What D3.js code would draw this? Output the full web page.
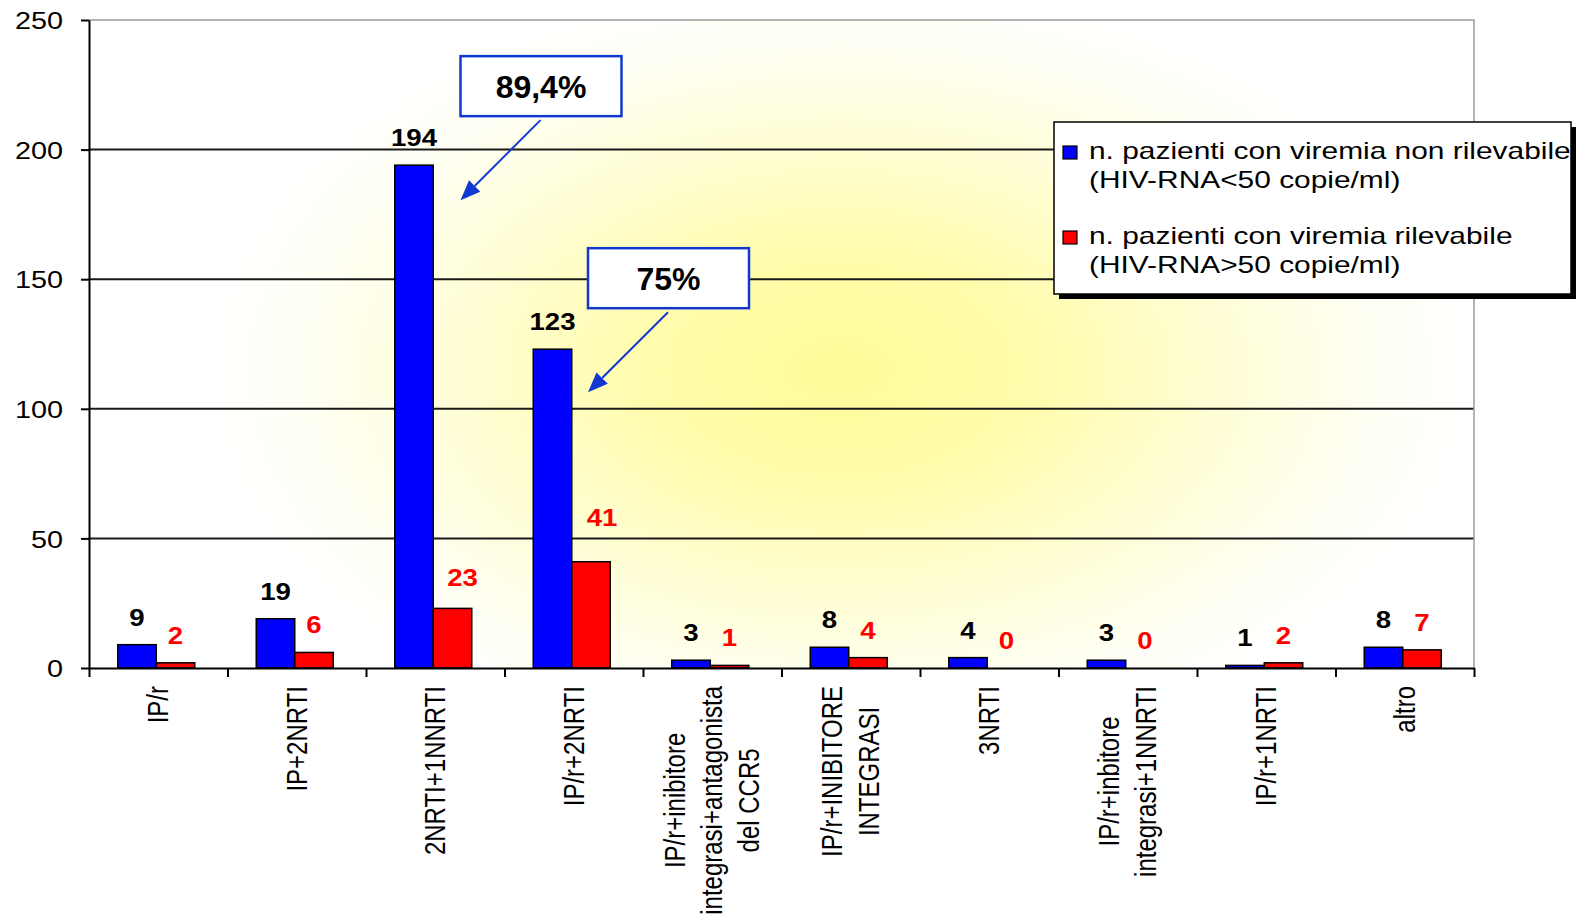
<!DOCTYPE html>
<html><head><meta charset="utf-8">
<script src="https://cdn.jsdelivr.net/npm/d3@7"></script>
<style>html,body{margin:0;padding:0;background:#fff;overflow:hidden} svg{display:block}</style>
</head><body>
<script>
// ---------- data ----------
const categories = [
  "IP/r",
  "IP+2NRTI",
  "2NRTI+1NNRTI",
  "IP/r+2NRTI",
  "IP/r+inibitore\nintegrasi+antagonista\ndel CCR5",
  "IP/r+INIBITORE\nINTEGRASI",
  "3NRTI",
  "IP/r+inbitore\nintegrasi+1NNRTI",
  "IP/r+1NRTI",
  "altro"
];
const undetectable = [9, 19, 194, 123, 3, 8, 4, 3, 1, 8];   // HIV-RNA<50
const detectable   = [2, 6, 23, 41, 1, 4, 0, 0, 2, 7];       // HIV-RNA>50
const yTicks = [0, 50, 100, 150, 200, 250];
const seriesNames = [
  "n. pazienti con viremia non rilevabile\n(HIV-RNA<50 copie/ml)",
  "n. pazienti con viremia rilevabile\n(HIV-RNA>50 copie/ml)"
];
const seriesColors = ["#0000ff", "#ff0000"];
const annotatedCategories = ["2NRTI+1NNRTI", "IP/r+2NRTI"];

// ---------- layout ----------
const W = 1576, H = 916;
const M = {left: 89, right: 1474, top: 20, bottom: 668};
const SX = 1.2;                       // horizontal stretch of the original picture
const FONT = "'Liberation Sans', Arial, sans-serif";

const svg = d3.select("body").append("svg").attr("width", W).attr("height", H);
const defs = svg.append("defs");
const grad = defs.append("radialGradient").attr("id", "bg")
  .attr("gradientUnits", "userSpaceOnUse")
  .attr("cx", 0).attr("cy", 0).attr("r", 1)
  .attr("gradientTransform", "translate(840,370) scale(640,390)");
[[0, "#fffb98"], [0.3, "#fffcac"], [0.6, "#fffed6"], [0.85, "#fffff6"], [1, "#ffffff"]]
  .forEach(([o, c]) => grad.append("stop").attr("offset", o).attr("stop-color", c));

const x = d3.scaleBand().domain(categories).range([M.left, M.right]).padding(0);
const y = d3.scaleLinear().domain([0, 250]).range([M.bottom, M.top]);
const bw = x.bandwidth();
const barW = 38.5;
const groupOff = (bw - 2 * barW) / 2 - 2;
const series = [undetectable, detectable];

// plot background
svg.append("rect").attr("x", M.left).attr("y", M.top)
  .attr("width", M.right - M.left).attr("height", M.bottom - M.top)
  .attr("fill", "url(#bg)");

// gridlines
svg.append("g").selectAll("line").data(yTicks.filter(d => d > 0 && d < 250)).join("line")
  .attr("x1", M.left).attr("x2", M.right)
  .attr("y1", d => y(d)).attr("y2", d => y(d))
  .attr("stroke", "#1a1a1a").attr("stroke-width", 2);
// top & right border
svg.append("path")
  .attr("d", `M${M.left},${y(250)}H${M.right}V${M.bottom}`)
  .attr("fill", "none").attr("stroke", "#9a9a9a").attr("stroke-width", 1.5);

// bars
series.forEach((vals, s) => {
  svg.append("g").selectAll("rect").data(categories).join("rect")
    .attr("x", (c) => x(c) + groupOff + s * barW)
    .attr("y", (c, i) => y(vals[i]))
    .attr("width", barW)
    .attr("height", (c, i) => y(0) - y(vals[i]))
    .attr("fill", seriesColors[s])
    .attr("stroke", "#000").attr("stroke-width", 1.5)
    .attr("display", (c, i) => vals[i] > 0 ? null : "none");
});

// y axis
const yAxis = svg.append("g").attr("transform", `translate(${M.left},0)`)
  .call(d3.axisLeft(y).tickValues(yTicks).tickSize(8).tickSizeOuter(0));
yAxis.select(".domain").attr("stroke", "#000").attr("stroke-width", 2);
yAxis.selectAll(".tick line").attr("stroke", "#000").attr("stroke-width", 2);
yAxis.selectAll(".tick text")
  .attr("x", null).attr("dy", "0.36em")
  .attr("transform", `translate(-26,0) scale(${SX},1)`)
  .attr("text-anchor", "end")
  .style("font-family", FONT).style("font-size", "24px").attr("fill", "#000");

// x axis (ticks at category boundaries)
const xb = d3.scaleLinear().domain([0, categories.length]).range([M.left, M.right]);
const xAxis = svg.append("g").attr("transform", `translate(0,${M.bottom})`)
  .call(d3.axisBottom(xb).ticks(categories.length).tickFormat("").tickSize(9).tickSizeOuter(0));
xAxis.select(".domain").attr("stroke", "#000").attr("stroke-width", 2);
xAxis.selectAll(".tick line").attr("stroke", "#000").attr("stroke-width", 2);

// category labels (rotated, multi-line, centered)
const LINE = 37, TOP = 686;
categories.forEach((c) => {
  const lines = c.split("\n");
  const cx = x(c) + bw / 2;
  const g = svg.append("g")
    .attr("transform", `translate(${cx},${TOP}) scale(${SX},1) rotate(-90)`);
  const texts = g.selectAll("text").data(lines).join("text")
    .text(d => d)
    .style("font-family", FONT).style("font-size", "24px").attr("fill", "#000")
    .attr("text-anchor", "middle");
  let maxLen = 0;
  texts.each(function () { maxLen = Math.max(maxLen, this.getComputedTextLength()); });
  const n = lines.length;
  texts.attr("x", -maxLen / 2)
    .attr("y", (d, j) => (((j - (n - 1) / 2) * LINE) + 10) / SX);
});

// value labels
const labelNudge = {"2NRTI+1NNRTI": [10, -3], "IP/r+2NRTI": [11, -17]}; // red labels moved in original
const labelColors = ["#000", "#ff0000"];
series.forEach((vals, s) => {
  svg.append("g").selectAll("text").data(categories).join("text")
    .attr("transform", (c, i) => {
      const nd = (s === 1 && labelNudge[c]) ? labelNudge[c] : [0, 0];
      const cx = x(c) + groupOff + s * barW + barW / 2 + nd[0];
      const cy = y(vals[i]) - 19 + nd[1];
      return `translate(${cx},${cy}) scale(${SX},1)`;
    })
    .attr("text-anchor", "middle")
    .style("font-family", FONT).style("font-size", "23px").style("font-weight", "bold")
    .attr("fill", labelColors[s])
    .text((c, i) => vals[i]);
});

// legend
const LG = {x: 1054, y: 122, w: 517, h: 172};
svg.append("rect").attr("x", LG.x + 5).attr("y", LG.y + 5).attr("width", LG.w).attr("height", LG.h).attr("fill", "#000");
svg.append("rect").attr("x", LG.x).attr("y", LG.y).attr("width", LG.w).attr("height", LG.h)
  .attr("fill", "#fff").attr("stroke", "#000").attr("stroke-width", 1.5);
seriesNames.forEach((name, s) => {
  const base = 159 + s * 85;
  svg.append("rect").attr("x", 1063).attr("y", base - 13).attr("width", 14).attr("height", 13)
    .attr("fill", seriesColors[s]).attr("stroke", "#000").attr("stroke-width", 1.2);
  name.split("\n").forEach((ln, j) => {
    svg.append("text")
      .attr("transform", `translate(1089,${base + j * 29}) scale(1.3,1)`)
      .style("font-family", FONT).style("font-size", "23px").attr("fill", "#000")
      .text(ln);
  });
});

// annotations: share of undetectable viremia
const annOffsets = {"2NRTI+1NNRTI": [8, 35], "IP/r+2NRTI": [-3, 43]};
const pctFmt = v => { const t = (Math.round(v * 10) / 10).toFixed(1); return (t.endsWith(".0") ? t.slice(0, -2) : t).replace(".", ",") + "%"; };
const ABLUE = "#1238d4";
annotatedCategories.forEach((c) => {
  const i = categories.indexOf(c);
  const pct = 100 * undetectable[i] / (undetectable[i] + detectable[i]);
  const off = annOffsets[c];
  const tx = x(c) + groupOff + barW * 1.5 + off[0];
  const ty = y(undetectable[i]) + off[1];
  const bx = tx, by = ty - 144;
  svg.append("rect").attr("x", bx).attr("y", by).attr("width", 161).attr("height", 60)
    .attr("fill", "#fff").attr("stroke", ABLUE).attr("stroke-width", 2.5);
  svg.append("text").attr("x", bx + 80.5).attr("y", by + 42)
    .attr("text-anchor", "middle")
    .style("font-family", FONT).style("font-size", "32px").style("font-weight", "bold")
    .attr("fill", "#000").text(pctFmt(pct));
  // arrow
  const sx = tx + 80, sy = ty - 80;
  const ang = Math.atan2(ty - sy, tx - sx);
  const L = 20, hw = 8;
  const bxh = tx - L * Math.cos(ang), byh = ty - L * Math.sin(ang);
  svg.append("line").attr("x1", sx).attr("y1", sy).attr("x2", bxh).attr("y2", byh)
    .attr("stroke", ABLUE).attr("stroke-width", 2);
  const px = -Math.sin(ang) * hw, py = Math.cos(ang) * hw;
  svg.append("path")
    .attr("d", `M${tx},${ty}L${bxh + px},${byh + py}L${bxh - px},${byh - py}Z`)
    .attr("fill", ABLUE);
});
</script>
</body></html>
